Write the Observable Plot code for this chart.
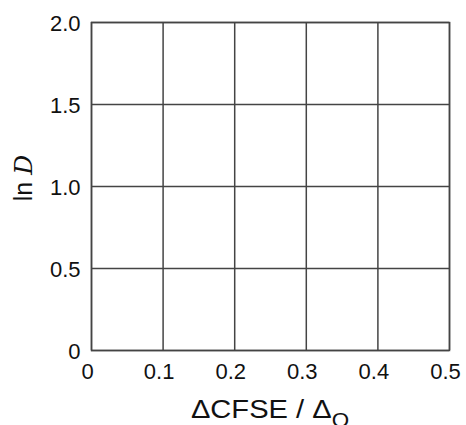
<!DOCTYPE html>
<html><head><meta charset="utf-8">
<script src="https://cdn.jsdelivr.net/npm/d3@7"></script>
<script src="https://cdn.jsdelivr.net/npm/@observablehq/plot@0.6"></script>
<style>body{margin:0;background:#fff;} svg{font-family:"Liberation Sans",Arial,sans-serif;}</style>
</head><body><div id="chart"></div>
<script>
const xTicks = [0, 0.1, 0.2, 0.3, 0.4, 0.5];
const xTickLabels = ["0", "0.1", "0.2", "0.3", "0.4", "0.5"];
const yTicks = [0, 0.5, 1.0, 1.5, 2.0];
const yTickLabels = ["0", "0.5", "1.0", "1.5", "2.0"];
const xDomain = [0, 0.5];
const yDomain = [0, 2.0];

const plot = Plot.plot({
  width: 466, height: 425,
  marginLeft: 91, marginRight: 17, marginTop: 22, marginBottom: 75,
  x: {domain: xDomain, label: null},
  y: {domain: yDomain, label: null},
  style: {fontFamily: "Liberation Sans, Arial, sans-serif", color: "#111", background: "#fff"},
  marks: [
    Plot.ruleX(xTicks, {stroke: "#444", strokeWidth: 1.5}),
    Plot.ruleY(yTicks, {stroke: "#444", strokeWidth: 1.5}),
    Plot.frame({stroke: "#444", strokeWidth: 1.5}),
    Plot.axisX(xTicks, {tickSize: 0, tickPadding: 13, dx: -4, fontSize: 22,
      tickFormat: d => xTickLabels[xTicks.indexOf(d)], label: null}),
    Plot.axisY(yTicks, {tickSize: 0, tickPadding: 11, dy: 1, fontSize: 22,
      tickFormat: d => yTickLabels[yTicks.indexOf(d)], label: null})
  ]
});
document.getElementById("chart").appendChild(plot);
const svg = d3.select(plot);
// x axis label
const xl = svg.append("text").attr("transform", "translate(270,418) scale(1.12,1)").attr("text-anchor", "middle")
  .attr("font-size", 26).attr("fill", "#111");
xl.append("tspan").text("ΔCFSE / Δ");
xl.append("tspan").attr("font-size", 20).attr("dy", 9).text("O");
// y axis label
const yl = svg.append("text").attr("transform", "translate(32,178) rotate(-90)").attr("text-anchor", "middle")
  .attr("font-size", 25).attr("fill", "#111");
yl.append("tspan").text("ln ");
yl.append("tspan").attr("font-family", "DejaVu Serif").attr("font-style", "italic").text("D");
</script></body></html>
